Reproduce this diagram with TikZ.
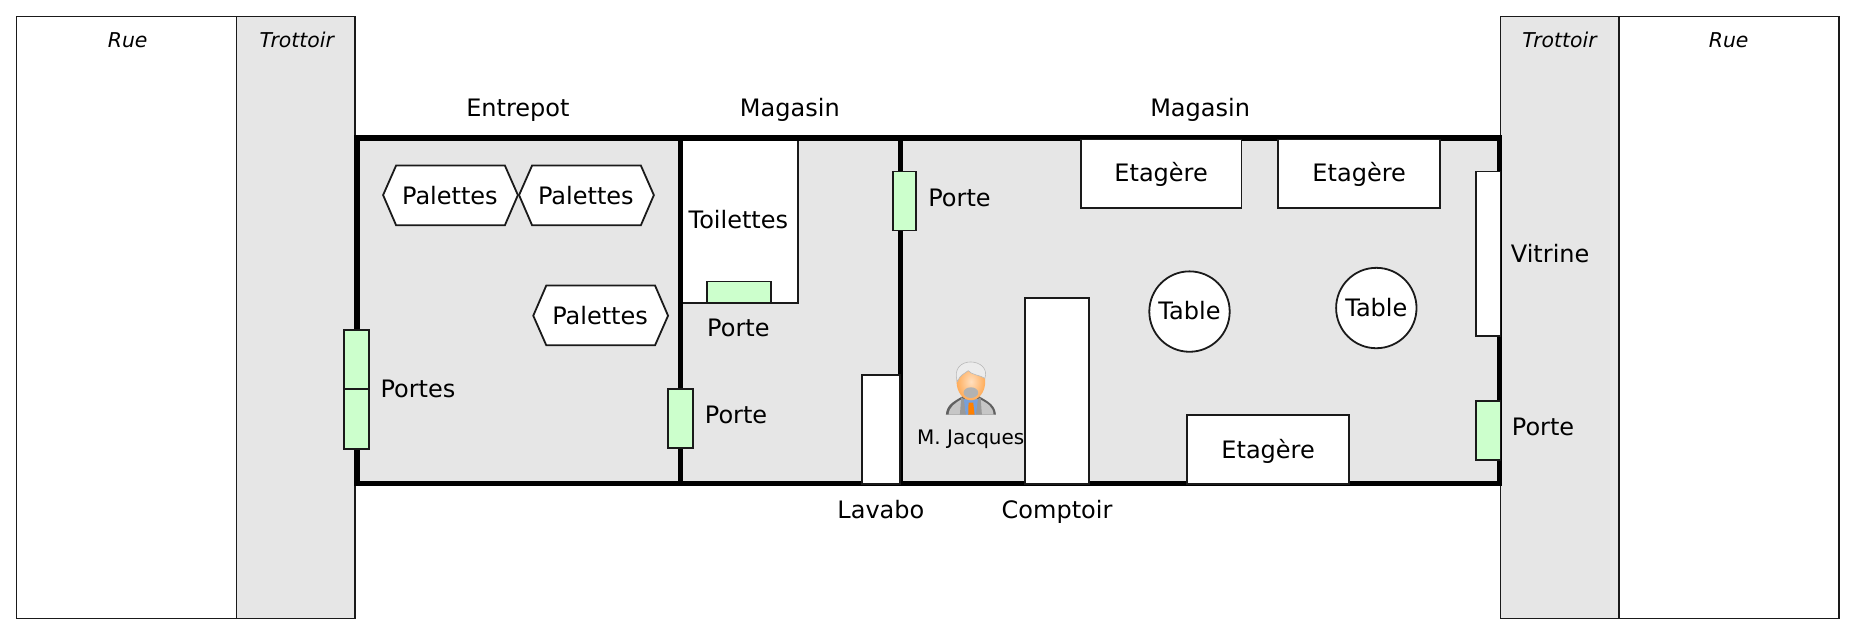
\documentclass[tikz,border=0pt]{standalone}
\usepackage{fontspec}
\setmainfont{DejaVu Sans}
\definecolor{sol}{HTML}{E6E6E6}
\definecolor{porte}{HTML}{CCFFCC}
\definecolor{ligne}{HTML}{1A1A1A}
\tikzset{
  fonte/.style={inner sep=0pt,font=\fontsize{24pt}{28pt}\selectfont,text=black,text height=18.2pt,text depth=5.8pt},
  txt/.style={fonte,yshift=-2.5pt},
  petit/.style={inner sep=0pt,font=\fontsize{20pt}{24pt}\selectfont,text=black,text height=15.2pt,text depth=4.8pt},
  rue/.style={inner sep=0pt,font=\fontsize{20.4pt}{24pt}\selectfont\itshape,text=black,text height=15.5pt,text depth=4.9pt},
  bord/.style={draw=ligne,line width=1.8pt},
  blanc/.style={bord,fill=white},
  gris/.style={bord,fill=sol},
  vert/.style={bord,fill=porte},
  mur/.style={draw=black,line width=5.3pt},
}
\begin{document}
\begin{tikzpicture}[x=1.18240pt,y=-1.18240pt]
\useasboundingbox (0,0) rectangle (1568,537.9);
% rue et trottoirs
\draw[blanc] (14,14) rectangle (200,523) ;
\draw[gris] (200,14) rectangle (300,523);
\draw[gris] (1269,14) rectangle (1369,523);
\draw[blanc] (1369,14) rectangle (1555,523);
\node[rue] (rueG) at (108,35.8) {Rue};
\node[rue] (trotG) at (251,35.8) {Trottoir};
\node[rue] (trotD) at (1319,35.8) {Trottoir};
\node[rue] (rueD) at (1462,35.8) {Rue};
% sol
\fill[sol] (302,116.6) rectangle (1268,409);
% toilettes
\fill[white] (576,117) rectangle (675,256);
\draw[bord] (576,117) -- (675,117) -- (675,256) -- (576,256);
% murs
\draw[mur,line cap=square] (302,116.6) rectangle (1268,409);
\draw[mur] (575.5,116.6) -- (575.5,411);
\draw[mur] (761.5,116.6) -- (761.5,411);
% meubles
\draw[blanc] (914,118) rectangle (1050,176);
\draw[blanc] (1081,118) rectangle (1218,176);
\draw[blanc] (1004,351) rectangle (1141,409);
\node[txt] (e1) at (982,146) {Etagère};
\node[txt] (e2) at (1149.5,146) {Etagère};
\node[txt] (e3) at (1072.5,380) {Etagère};
\draw[blanc] (729,317) rectangle (761,409);
\draw[blanc] (867,252) rectangle (921,409);
\draw[blanc] (1248,145) rectangle (1269,284);
\node[circle,blanc,minimum size=80.4pt,fonte] (t1) at (1006,263.5) {\raisebox{-2pt}{Table}};
\node[circle,blanc,minimum size=80.4pt,fonte] (t2) at (1164,260.5) {\raisebox{-2pt}{Table}};
% palettes
\draw[blanc] (324,165) -- (335,140) -- (427,140) -- (438,165) -- (427,190.5) -- (335,190.5) -- cycle;
\draw[blanc] (439,165) -- (450,140) -- (542,140) -- (553,165) -- (542,190.5) -- (450,190.5) -- cycle;
\draw[blanc] (451,267) -- (462,241.5) -- (554,241.5) -- (565,267) -- (554,292) -- (462,292) -- cycle;
\node[txt] (p1) at (380.5,165.5) {Palettes};
\node[txt] (p2) at (495.5,165.5) {Palettes};
\node[txt] (p3) at (507.5,267) {Palettes};
% portes
\draw[vert] (291,279) rectangle (312,329);
\draw[vert] (291,329) rectangle (312,380);
\draw[vert] (565,329) rectangle (586,379);
\draw[vert] (598,238) rectangle (652,256);
\draw[vert] (755,145) rectangle (775,195);
\draw[vert] (1248,339) rectangle (1269,389);
% textes
\node[txt] (l1) at (438,91) {Entrepot};
\node[txt] (l2) at (668,91) {Magasin};
\node[txt] (l3) at (1015,91) {Magasin};
\node[txt] (l4) at (624.5,186) {Toilettes};
\node[txt] (l5) at (624.5,277) {Porte};
\node[txt] (l6) at (811.5,167) {Porte};
\node[txt] (l7) at (622.5,351) {Porte};
\node[txt] (l8) at (353.5,329) {Portes};
\node[txt] (l9) at (1305,361) {Porte};
\node[txt] (l10) at (1311,215) {Vitrine};
\node[txt] (l11) at (745,431) {Lavabo};
\node[txt] (l12) at (894,431) {Comptoir};
\node[petit] (mj) at (821,371.5) {M. Jacques};
% personnage
\begin{scope}[x=0.3333pt,y=-0.3333pt,shift={(2700,1020)}]
\fill[gray!75!black] (138,224) .. controls (140,195) and (160,185) .. (190,168) -- (236,168) .. controls (265,185) and (286,195) .. (288,224) -- cycle;
\fill[gray!45] (146,224) .. controls (148,200) and (165,190) .. (185,178) -- (240,178) .. controls (262,190) and (280,200) .. (281,224) -- cycle;
\fill[gray!80] (180,224) -- (184,172) -- (196,180) -- (198,224) -- cycle;
\fill[gray!80] (246,224) -- (242,172) -- (230,180) -- (228,224) -- cycle;
\fill[cyan!50!blue!55!white] (192,178) -- (234,178) -- (228,224) -- (198,224) -- cycle;
\fill[orange] (206,188) -- (220,188) -- (224,224) -- (205,224) -- cycle;
\shade[inner color=orange!25!white,outer color=orange!65!white] (213,125) ellipse [x radius=43,y radius=56];
\fill[gray!60] (213,158) ellipse [x radius=22,y radius=16];
\fill[gray!15,draw=gray!55,line width=0.6pt] (172,125) .. controls (160,85) and (185,66) .. (212,66) .. controls (240,66) and (265,85) .. (255,115) .. controls (240,105) and (215,105) .. (205,92) .. controls (195,100) and (180,105) .. (172,125) -- cycle;
\end{scope}
\end{tikzpicture}
\end{document}
